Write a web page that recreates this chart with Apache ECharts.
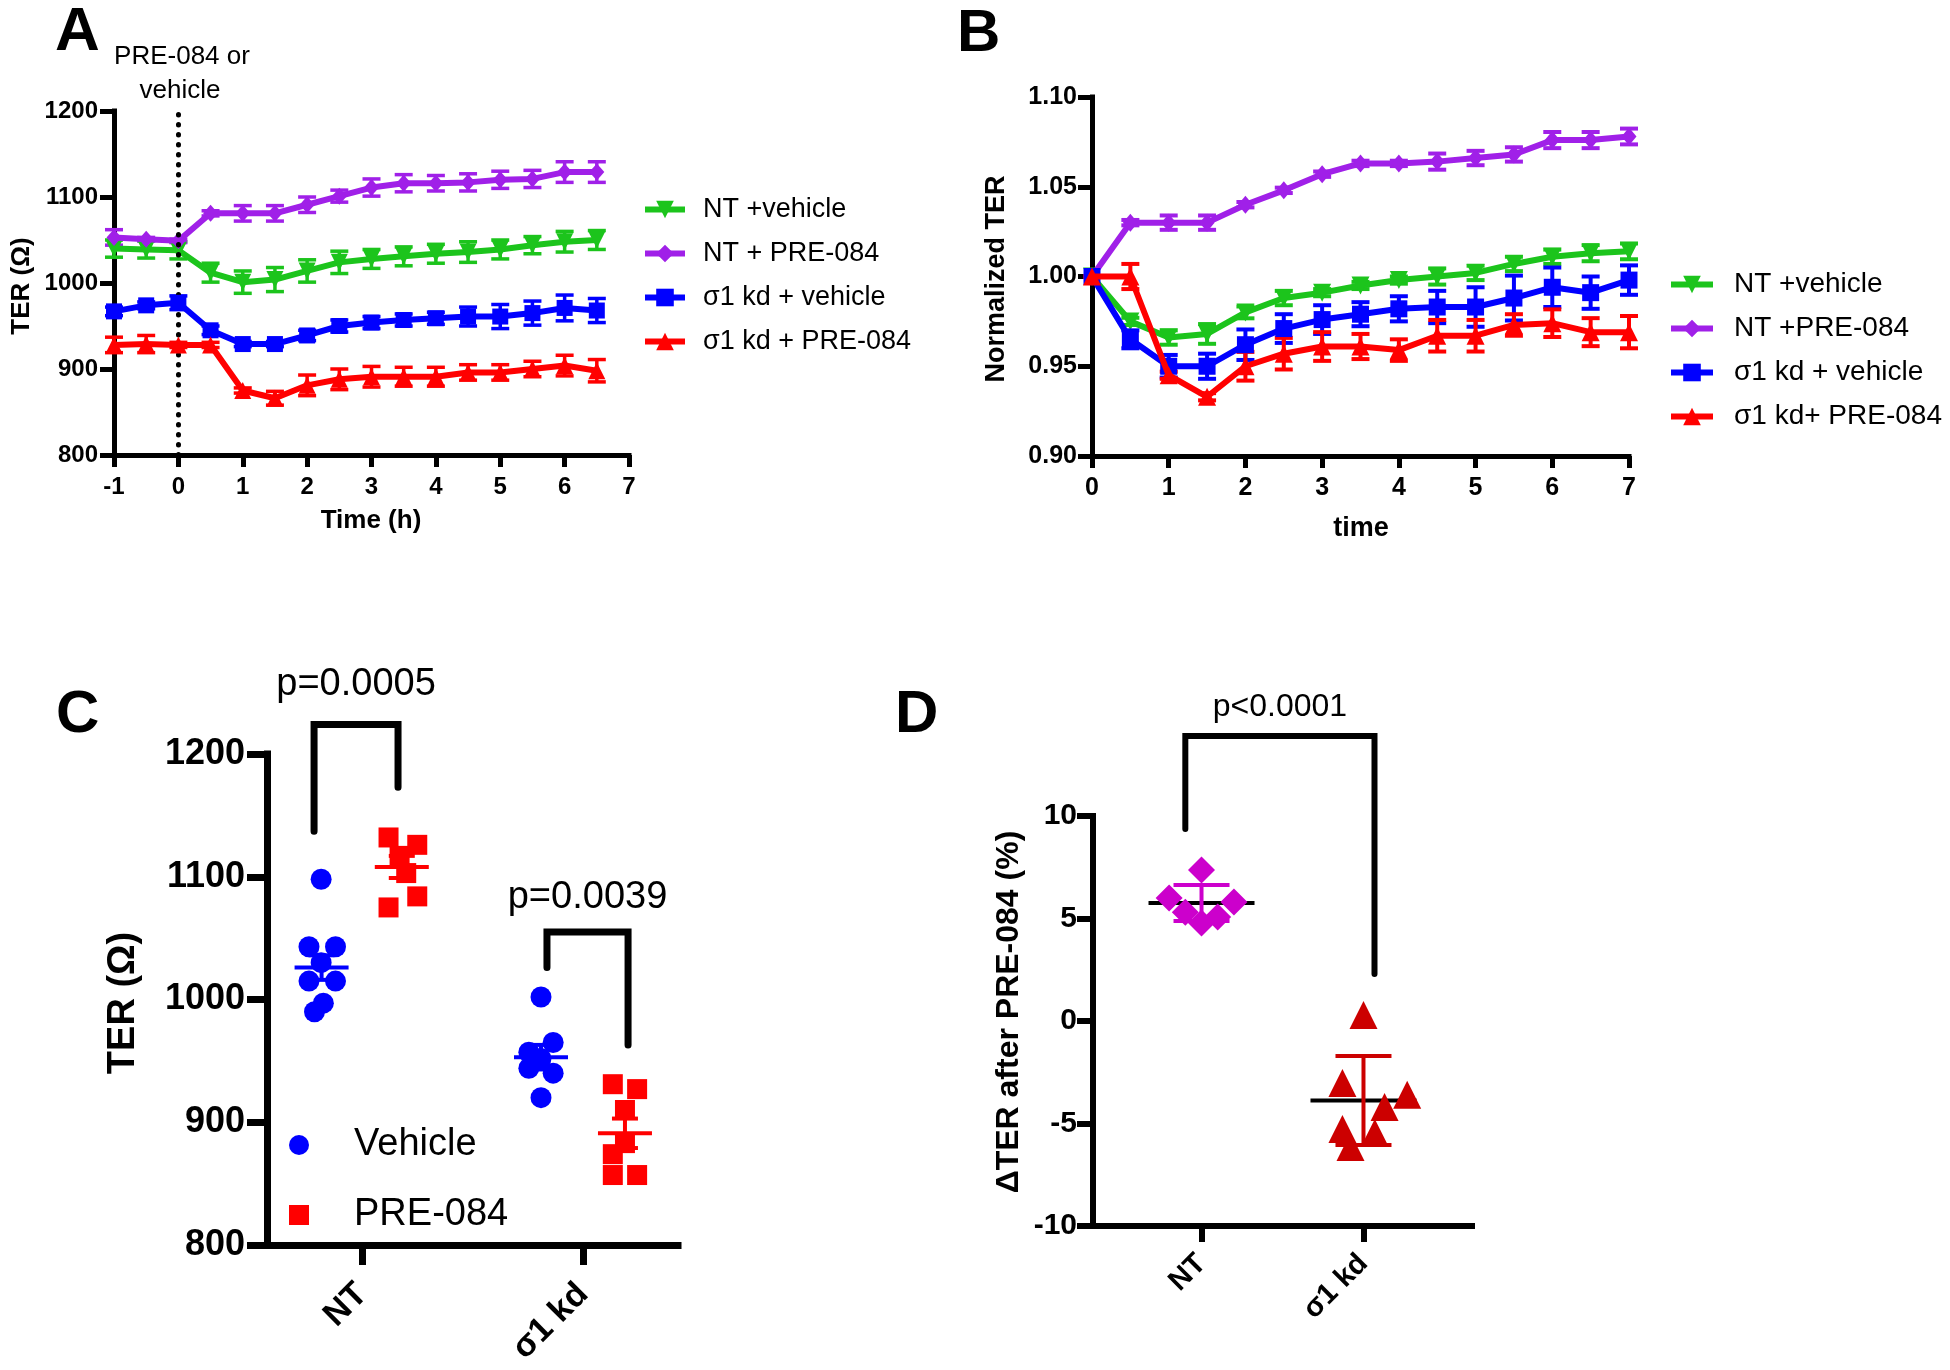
<!DOCTYPE html>
<html><head><meta charset="utf-8">
<script src="https://cdn.jsdelivr.net/npm/echarts@6/dist/echarts.min.js"></script>
<style>html,body{margin:0;padding:0;background:#fff}#c{width:1950px;height:1370px}</style>
</head><body><div id="c"></div>
<script>
const FONT = '"Liberation Sans", Arial, Helvetica, sans-serif';

// ---------- Panel A (TER, Ω) ----------
const timeA = [-1,-0.5,0,0.5,1,1.5,2,2.5,3,3.5,4,4.5,5,5.5,6,6.5];
const aNtVeh = [1040,1039,1038,1012,1001,1004,1014,1024,1028,1031,1034,1036,1039,1044,1048,1050];
const aNtVehErr = [10,10,10,11,13,14,13,13,11,11,11,12,11,10,12,11];
const aNtPre = [1053,1051,1049,1081,1081,1081,1091,1101,1111,1116,1116,1117,1120,1121,1129,1129];
const aNtPreErr = [9,2,2,3,9,9,9,7,10,10,9,10,10,10,12,12];
const aKdVeh = [967,974,977,945,929,929,939,950,954,957,959,961,961,965,971,968];
const aKdVehErr = [5,4,8,5,3,3,6,7,7,7,7,11,14,14,15,14];
const aKdPre = [928,929,928,928,875,866,881,888,891,891,891,896,896,900,904,898];
const aKdPreErr = [9,10,3,3,3,8,12,12,12,11,11,9,9,9,12,13];
const namesA = ['NT +vehicle','NT + PRE-084','σ1 kd + vehicle','σ1 kd + PRE-084'];

// ---------- Panel B (Normalized TER) ----------
const timeB = [0,0.5,1,1.5,2,2.5,3,3.5,4,4.5,5,5.5,6,6.5,7];
const bNtVeh = [1.000,0.975,0.966,0.968,0.980,0.988,0.991,0.995,0.998,1.000,1.002,1.007,1.011,1.013,1.014];
const bNtVehErr = [0,0.002,0.004,0.0055,0.0033,0.004,0.002,0.002,0.002,0.0045,0.004,0.004,0.004,0.0045,0.0044];
const bNtPre = [1.000,1.030,1.030,1.030,1.040,1.048,1.057,1.063,1.063,1.064,1.066,1.068,1.076,1.076,1.078];
const bNtPreErr = [0,0.0015,0.004,0.004,0.0015,0.0015,0.0015,0.0015,0.0015,0.0045,0.004,0.004,0.0045,0.0045,0.0044];
const bKdVeh = [1.000,0.965,0.950,0.950,0.962,0.971,0.976,0.979,0.982,0.983,0.983,0.988,0.994,0.991,0.998];
const bKdVehErr = [0,0.005,0.0063,0.007,0.0085,0.008,0.008,0.0067,0.007,0.009,0.011,0.0125,0.011,0.009,0.0082];
const bKdPre = [1.000,1.000,0.945,0.933,0.950,0.957,0.961,0.961,0.959,0.967,0.967,0.973,0.974,0.969,0.969];
const bKdPreErr = [0,0.007,0.002,0.002,0.008,0.0088,0.008,0.007,0.006,0.0088,0.0088,0.006,0.0077,0.0078,0.009];
const namesB = ['NT +vehicle','NT +PRE-084','σ1 kd + vehicle','σ1 kd+ PRE-084'];

// ---------- Panel C (TER at group level) ----------
const catsC = ['NT','σ1 kd'];
const cVehNt = [1098,1043,1043,1030,1015,1015,997,990];
const cVehNtJit = [-0.185,-0.24,-0.12,-0.185,-0.24,-0.12,-0.175,-0.215];
const cPreNt = [1132,1126,1117,1103,1084,1075];
const cPreNtJit = [0.12,0.25,0.17,0.2,0.25,0.12];
const cVehKd = [1002,965,957,952,944,940,920];
const cVehKdJit = [-0.19,-0.135,-0.245,-0.19,-0.245,-0.135,-0.19];
const cPreKd = [931,927,910,883,874,857,857];
const cPreKdJit = [0.135,0.245,0.19,0.19,0.135,0.135,0.245];
const cMeanX = [-0.183,0.18,0.81,1.19];
const cMean = [1026,1108,953,891];
const cSem = [10,9,10,12];
const cPLabels = ['p=0.0005','p=0.0039'];
// bracket: [xLeft, xRight, yTop, yLeftEnd, yRightEnd, yText]
const cBrackets = [[-0.217,0.163,1224,1137,1173,1257],[0.837,1.204,1055,1026,963,1083]];

// ---------- Panel D (ΔTER after PRE-084, %) ----------
const catsD = ['NT','σ1 kd'];
const dNt = [7.37,6.0,5.8,5.3,5.07,4.78];
const dNtJit = [0,-0.2,0.2,-0.1,0.1,0];
const dKd = [0.29,-3.02,-3.6,-4.2,-5.27,-5.46,-6.15];
const dKdJit = [0,-0.13,0.27,0.13,-0.13,0.07,-0.08];
const dMean = [5.76,-3.88];
const dSd = [0.88,2.17];
const dPLabels = ['p<0.0001'];
const dBrackets = [[-0.1,1.068,13.9,9.37,2.29,15.3]];

const GREEN='#1cc41c', PURPLE='#a020e8', BLUE='#0000ff', RED='#ff0000', MAG='#cc00cc', DRED='#cc0000';

function ax(w, tickLen, fs, margin, extra){
  return Object.assign({
    axisLine:{show:true,onZero:false,lineStyle:{color:'#000',width:w,cap:'square'}},
    axisTick:{show:true,inside:false,length:tickLen,lineStyle:{color:'#000',width:w}},
    axisLabel:{color:'#000',fontFamily:FONT,fontWeight:'bold',fontSize:fs,margin:margin,formatter:v=>String(v)},
    splitLine:{show:false}
  }, extra);
}
function deepAx(base, over){
  const r = base;
  for (const k in over){ r[k] = Object.assign({}, r[k]||{}, over[k]); }
  return r;
}

function lineSeries(name, idx, xs, ys, color, symbol, rot, size, z){
  return {type:'line', name, xAxisIndex:idx, yAxisIndex:idx, data:xs.map((x,i)=>[x,ys[i]]),
    symbol, symbolRotate:rot, symbolSize:size, showSymbol:true, z:z,
    lineStyle:{color,width:6}, itemStyle:{color,opacity:1}, emphasis:{disabled:true}, silent:true};
}
function errBars(idx, xs, ys, es, color, capHalf, lw, z){
  return {type:'custom', xAxisIndex:idx, yAxisIndex:idx, silent:true, z:z,
    data:xs.map((x,i)=>[x, ys[i]-es[i], ys[i]+es[i]]),
    renderItem:(p,api)=>{
      const lo=api.coord([api.value(0),api.value(1)]), hi=api.coord([api.value(0),api.value(2)]);
      const x=lo[0], st={stroke:color,lineWidth:lw};
      return {type:'group',children:[
        {type:'line',shape:{x1:x,y1:lo[1],x2:x,y2:hi[1]},style:st},
        {type:'line',shape:{x1:x-capHalf,y1:lo[1],x2:x+capHalf,y2:lo[1]},style:st},
        {type:'line',shape:{x1:x-capHalf,y1:hi[1],x2:x+capHalf,y2:hi[1]},style:st}]};
    }};
}
function bracketSeries(idx, brackets, labels, lw, fs){
  return {type:'custom', xAxisIndex:idx, yAxisIndex:idx, silent:true, clip:false, z:5,
    data:brackets,
    renderItem:(p,api)=>{
      const x1=api.value(0), x2=api.value(1), yt=api.value(2), yl=api.value(3), yr=api.value(4), ty=api.value(5);
      const pts=[api.coord([x1,yl]),api.coord([x1,yt]),api.coord([x2,yt]),api.coord([x2,yr])];
      const pt=api.coord([(x1+x2)/2,ty]);
      return {type:'group',children:[
        {type:'polyline',shape:{points:pts},style:{stroke:'#000',lineWidth:lw,fill:null,lineJoin:'miter',lineCap:'round'}},
        {type:'text',x:pt[0],y:pt[1],style:{text:labels[p.dataIndex],fill:'#000',font:'normal '+fs+'px '+FONT,align:'center',verticalAlign:'middle'}}]};
    }};
}

const chart = echarts.init(document.getElementById('c'), null, {renderer:'canvas'});

const option = {
  animation:false,
  backgroundColor:'#fff',
  textStyle:{fontFamily:FONT},
  grid:[
    {left:114, top:111, width:515, height:344, outerBoundsMode:'none'},
    {left:1092, top:97, width:537, height:359, outerBoundsMode:'none'},
    {left:267, top:754, width:411, height:491, outerBoundsMode:'none'},
    {left:1093, top:816, width:379, height:410, outerBoundsMode:'none'}
  ],
  xAxis:[
    ax(5,12,24,20,{type:'value',gridIndex:0,min:-1,max:7,interval:1}),
    ax(5,12,25,20,{type:'value',gridIndex:1,min:0,max:7,interval:1}),
    deepAx(ax(7,20,34,44,{type:'value',gridIndex:2,min:-0.43,max:1.43}),
      {axisLabel:{customValues:[0,1],rotate:45,formatter:v=>catsC[Math.round(v)]}, axisTick:{customValues:[0,1]}}),
    deepAx(ax(6,16,29,33,{type:'value',gridIndex:3,min:-0.67,max:1.67}),
      {axisLabel:{customValues:[0,1],rotate:45,formatter:v=>catsD[Math.round(v)]}, axisTick:{customValues:[0,1]}})
  ],
  yAxis:[
    ax(5,14,24,16,{type:'value',gridIndex:0,min:800,max:1200,interval:100}),
    deepAx(ax(5,14,25,15,{type:'value',gridIndex:1,min:0.9,max:1.1,interval:0.05}),{axisLabel:{formatter:v=>v.toFixed(2)}}),
    ax(7,20,36,22,{type:'value',gridIndex:2,min:800,max:1200,interval:100}),
    ax(6,16,30,16,{type:'value',gridIndex:3,min:-10,max:10,interval:5})
  ],
  legend:[
    {data:namesA, orient:'vertical', left:642, top:194, padding:0, itemWidth:40, itemHeight:22, itemGap:13,
      lineStyle:{width:6}, selectedMode:false, textStyle:{fontFamily:FONT,fontSize:27,color:'#000',lineHeight:31,padding:[0,0,0,13]}},
    {data:namesB, orient:'vertical', left:1668, top:269, padding:0, itemWidth:42, itemHeight:22, itemGap:13,
      lineStyle:{width:6}, selectedMode:false, textStyle:{fontFamily:FONT,fontSize:28,color:'#000',lineHeight:31,padding:[0,0,0,16]}},
    {data:['Vehicle','PRE-084'], orient:'vertical', left:289, top:1123, padding:0, itemWidth:20, itemHeight:20, itemGap:26,
      selectedMode:false, textStyle:{fontFamily:FONT,fontSize:38,color:'#000',lineHeight:44,padding:[0,0,0,40]}}
  ],
  graphic:[
    {type:'text',left:55,top:2,style:{text:'A',font:'bold 62px '+FONT,fill:'#000'}},
    {type:'text',left:957,top:4,style:{text:'B',font:'bold 60px '+FONT,fill:'#000'}},
    {type:'text',left:56,top:685,style:{text:'C',font:'bold 60px '+FONT,fill:'#000'}},
    {type:'text',left:895,top:685,style:{text:'D',font:'bold 60px '+FONT,fill:'#000'}},
    {type:'text',x:182,y:57,style:{text:'PRE-084 or',font:'normal 26px '+FONT,fill:'#000',align:'center',verticalAlign:'middle'}},
    {type:'text',x:180,y:91,style:{text:'vehicle',font:'normal 26px '+FONT,fill:'#000',align:'center',verticalAlign:'middle'}},
    {type:'text',x:371,y:521,style:{text:'Time (h)',font:'bold 26px '+FONT,fill:'#000',align:'center',verticalAlign:'middle'}},
    {type:'text',x:22,y:286,rotation:Math.PI/2,style:{text:'TER (Ω)',font:'bold 26px '+FONT,fill:'#000',align:'center',verticalAlign:'middle'}},
    {type:'text',x:1361,y:529,style:{text:'time',font:'bold 27px '+FONT,fill:'#000',align:'center',verticalAlign:'middle'}},
    {type:'text',x:997,y:279,rotation:Math.PI/2,style:{text:'Normalized TER',font:'bold 27px '+FONT,fill:'#000',align:'center',verticalAlign:'middle'}},
    {type:'text',x:124,y:1003,rotation:Math.PI/2,style:{text:'TER (Ω)',font:'bold 38px '+FONT,fill:'#000',align:'center',verticalAlign:'middle'}},
    {type:'text',x:1009,y:1012,rotation:Math.PI/2,style:{text:'ΔTER after PRE-084 (%)',font:'bold 32px '+FONT,fill:'#000',align:'center',verticalAlign:'middle'}}
  ],
  series:[]
};

const S = option.series;
// Panel A
const aSeries = [
  [aNtVeh,aNtVehErr,GREEN,'triangle',180,17],
  [aNtPre,aNtPreErr,PURPLE,'diamond',0,[15,17]],
  [aKdVeh,aKdVehErr,BLUE,'rect',0,16],
  [aKdPre,aKdPreErr,RED,'triangle',0,17]
];
aSeries.forEach((s,i)=>{
  const ls = lineSeries(namesA[i],0,timeA,s[0],s[2],s[3],s[4],s[5],3+i);
  if(i===0){
    ls.markLine={silent:true,symbol:'none',label:{show:false},animation:false,
      lineStyle:{color:'#000',width:5,type:[0.5,9.5],cap:'round'},data:[{xAxis:0}]};
  }
  S.push(ls);
  S.push(errBars(0,timeA,s[0],s[1],s[2],9,3.5,2+i));
});
// Panel B
const bSeries = [
  [bNtVeh,bNtVehErr,GREEN,'triangle',180,18],
  [bNtPre,bNtPreErr,PURPLE,'diamond',0,[15,18]],
  [bKdVeh,bKdVehErr,BLUE,'rect',0,17],
  [bKdPre,bKdPreErr,RED,'triangle',0,18]
];
bSeries.forEach((s,i)=>{
  S.push(lineSeries(namesB[i],1,timeB,s[0],s[2],s[3],s[4],s[5],3+i));
  S.push(errBars(1,timeB,s[0],s[1],s[2],9,4,2+i));
});
// Panel C
S.push({type:'scatter',name:'Vehicle',xAxisIndex:2,yAxisIndex:2,symbol:'circle',symbolSize:21,itemStyle:{color:BLUE,opacity:1},silent:true,z:3,
  data:cVehNt.map((v,i)=>[cVehNtJit[i],v]).concat(cVehKd.map((v,i)=>[1+cVehKdJit[i],v]))});
S.push({type:'scatter',name:'PRE-084',xAxisIndex:2,yAxisIndex:2,symbol:'rect',symbolSize:20,itemStyle:{color:RED,opacity:1},silent:true,z:3,
  data:cPreNt.map((v,i)=>[cPreNtJit[i],v]).concat(cPreKd.map((v,i)=>[1+cPreKdJit[i],v]))});
const cColors=[BLUE,RED,BLUE,RED];
S.push({type:'custom',xAxisIndex:2,yAxisIndex:2,silent:true,z:4,
  data:cMean.map((m,i)=>[cMeanX[i],m,cSem[i]]),
  renderItem:(p,api)=>{
    const x=api.value(0), m=api.value(1), e=api.value(2);
    const pm=api.coord([x,m]), lo=api.coord([x,m-e]), hi=api.coord([x,m+e]);
    const st={stroke:cColors[p.dataIndex],lineWidth:4};
    return {type:'group',children:[
      {type:'line',shape:{x1:pm[0]-27,y1:pm[1],x2:pm[0]+27,y2:pm[1]},style:st},
      {type:'line',shape:{x1:pm[0],y1:lo[1],x2:pm[0],y2:hi[1]},style:st},
      {type:'line',shape:{x1:pm[0]-13,y1:lo[1],x2:pm[0]+13,y2:lo[1]},style:st},
      {type:'line',shape:{x1:pm[0]-13,y1:hi[1],x2:pm[0]+13,y2:hi[1]},style:st}]};
  }});
S.push(bracketSeries(2,cBrackets,cPLabels,7,38));
// Panel D
const dColors=[MAG,DRED];
S.push({type:'custom',xAxisIndex:3,yAxisIndex:3,silent:true,z:2,
  data:dMean.map((m,i)=>[i,m]),
  renderItem:(p,api)=>{
    const pm=api.coord([api.value(0),api.value(1)]);
    return {type:'line',shape:{x1:pm[0]-53,y1:pm[1],x2:pm[0]+53,y2:pm[1]},style:{stroke:'#000',lineWidth:4}};
  }});
S.push({type:'scatter',name:'NT ',xAxisIndex:3,yAxisIndex:3,symbol:'diamond',symbolSize:27,itemStyle:{color:MAG,opacity:1},silent:true,z:3,
  data:dNt.map((v,i)=>[dNtJit[i],v])});
S.push({type:'scatter',name:'σ1 kd ',xAxisIndex:3,yAxisIndex:3,symbol:'triangle',symbolSize:28,itemStyle:{color:DRED,opacity:1},silent:true,z:3,
  data:dKd.map((v,i)=>[1+dKdJit[i],v])});
S.push({type:'custom',xAxisIndex:3,yAxisIndex:3,silent:true,z:4,
  data:dMean.map((m,i)=>[i,m,dSd[i]]),
  renderItem:(p,api)=>{
    const x=api.value(0), m=api.value(1), e=api.value(2);
    const lo=api.coord([x,m-e]), hi=api.coord([x,m+e]);
    const st={stroke:dColors[p.dataIndex],lineWidth:4};
    return {type:'group',children:[
      {type:'line',shape:{x1:lo[0],y1:lo[1],x2:lo[0],y2:hi[1]},style:st},
      {type:'line',shape:{x1:lo[0]-28,y1:lo[1],x2:lo[0]+28,y2:lo[1]},style:st},
      {type:'line',shape:{x1:lo[0]-28,y1:hi[1],x2:lo[0]+28,y2:hi[1]},style:st}]};
  }});
S.push(bracketSeries(3,dBrackets,dPLabels,6,32));

chart.setOption(option);
</script>
</body></html>
